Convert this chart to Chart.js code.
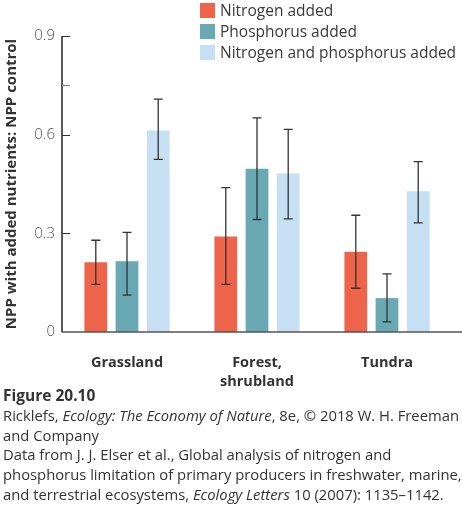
<!DOCTYPE html>
<html>
<head>
<meta charset="utf-8">
<script src="https://cdn.jsdelivr.net/npm/chart.js@4.4.1/dist/chart.umd.min.js"></script>
<style>
    body { margin: 0; background: #fff; font-family: 'Open Sans', sans-serif; }
    #wrap { position: relative; width: 462px; height: 508px; overflow: hidden; }
    #box_grafico { position: absolute; left: 0; top: 0; width: 462px; height: 392px; }
    #legenda { position: absolute; left: 200px; top: 0; font-size: 15.5px; color: #3a3a3a; }
    #legenda div { height: 21px; line-height: 21px; white-space: nowrap; }
    #legenda span { display: inline-block; width: 15px; height: 15px; margin-right: 5px; vertical-align: -2px; }
    #legenda .n span { background: #ee644a; }
    #legenda .p span { background: #69a9b4; }
    #legenda .np span { background: #c6dff3; }
    #legenda_fig { position: absolute; left: 3px; top: 386px; font-size: 14.8px; color: #333; line-height: 19.8px; white-space: nowrap; }
    #legenda_fig b { font-size: 15.5px; }
</style>
</head>
<body>
<div id="wrap">
    <div id="box_grafico"><canvas id="chartNutrientes"></canvas></div>
    <div id="legenda"></div>
    <div id="legenda_fig">
        <b>Figure 20.10</b><br>
        Ricklefs, <i>Ecology: The Economy of Nature</i>, 8e, © 2018 W. H. Freeman<br>
        and Company<br>
        Data from J. J. Elser et al., Global analysis of nitrogen and<br>
        phosphorus limitation of primary producers in freshwater, marine,<br>
        and terrestrial ecosystems, <i>Ecology Letters</i> 10 (2007): 1135–1142.
    </div>
</div>
<script>
// dados
var biomas = ['Grassland', ['Forest,', 'shrubland'], 'Tundra'];
var nomesSeries = ['Nitrogen added', 'Phosphorus added', 'Nitrogen and phosphorus added'];
var coresSeries = ['#ee644a', '#69a9b4', '#c6dff3'];

var nitrogenio = [0.212, 0.290, 0.244];
var nitrogenioMin = [0.145, 0.145, 0.133];
var nitrogenioMax = [0.279, 0.439, 0.355];

var fosforo = [0.215, 0.496, 0.103];
var fosforoMin = [0.112, 0.342, 0.031];
var fosforoMax = [0.303, 0.651, 0.177];

var ambos = [0.613, 0.482, 0.428];
var ambosMin = [0.525, 0.344, 0.332];
var ambosMax = [0.708, 0.616, 0.518];

var ticksY = [0, 0.3, 0.6, 0.75, 0.9];
var rotulosY = ['0', '0.3', '0.6', '', '0.9'];

var valores = [nitrogenio, fosforo, ambos];
var minimos = [nitrogenioMin, fosforoMin, ambosMin];
var maximos = [nitrogenioMax, fosforoMax, ambosMax];

// legenda em html
var htmlLegenda = '';
var classes = ['n', 'p', 'np'];
for (var i = 0; i < nomesSeries.length; i++) {
    htmlLegenda += `<div class="${classes[i]}"><span></span>${nomesSeries[i]}</div>`;
}
legenda.innerHTML = htmlLegenda;

let dados = {
    labels: biomas,
    datasets: []
};
for (var i = 0; i < valores.length; i++) {
    dados.datasets.push({
        label: nomesSeries[i],
        data: valores[i],
        backgroundColor: coresSeries[i],
        barPercentage: 0.73,
        categoryPercentage: 0.72
    });
}

// barras de erro + ticks para dentro + eixo x ate a borda
const pluginExtras = {
    id: 'extras',
    afterDatasetsDraw(chart) {
        const ctx = chart.ctx;
        const y = chart.scales.y;
        ctx.save();
        ctx.strokeStyle = '#333';
        ctx.lineWidth = 1.3;
        chart.data.datasets.forEach((ds, d) => {
            chart.getDatasetMeta(d).data.forEach((bar, i) => {
                var topo = y.getPixelForValue(maximos[d][i]);
                var base = y.getPixelForValue(minimos[d][i]);
                ctx.beginPath();
                ctx.moveTo(bar.x, topo);
                ctx.lineTo(bar.x, base);
                ctx.moveTo(bar.x - 4.5, topo);
                ctx.lineTo(bar.x + 4.5, topo);
                ctx.moveTo(bar.x - 4.5, base);
                ctx.lineTo(bar.x + 4.5, base);
                ctx.stroke();
            });
        });
        ctx.restore();
    },
    afterDraw(chart) {
        const ctx = chart.ctx;
        const y = chart.scales.y;
        const area = chart.chartArea;
        ctx.save();
        ctx.lineWidth = 1.5;
        ctx.strokeStyle = '#222';
        ctx.beginPath();
        ctx.moveTo(area.left, area.top);
        ctx.lineTo(area.left, area.bottom);
        ctx.stroke();
        ctx.strokeStyle = '#555';
        ctx.beginPath();
        ctx.moveTo(area.left, area.bottom);
        ctx.lineTo(chart.width, area.bottom);
        ctx.stroke();
        ticksY.forEach((v, k) => {
            if (v == 0) return;
            var py = Math.round(y.getPixelForValue(v)) + 0.5;
            ctx.strokeStyle = rotulosY[k] == '' ? '#888' : '#333';
            ctx.lineWidth = 1;
            ctx.beginPath();
            ctx.moveTo(area.left, py);
            ctx.lineTo(area.left + 8, py);
            ctx.stroke();
        });
        ctx.restore();
    }
};

const config = {
    type: 'bar',
    data: dados,
    plugins: [pluginExtras],
    options: {
        responsive: true,
        maintainAspectRatio: false,
        animation: false,
        layout: { padding: { top: 36, right: 10, left: 3, bottom: 0 } },
        plugins: {
            legend: { display: false },
            tooltip: { enabled: false }
        },
        scales: {
            x: {
                grid: { display: false, drawTicks: false },
                border: { display: false },
                ticks: {
                    color: '#333',
                    font: { family: 'Open Sans', size: 14.5, weight: 'bold', lineHeight: 1.35 },
                    padding: 21,
                    maxRotation: 0,
                    autoSkip: false
                },
                afterFit(escala) { escala.height = 60; }
            },
            y: {
                min: 0,
                max: 0.9,
                grid: { display: false, drawTicks: false },
                border: { display: false },
                afterBuildTicks(escala) {
                    escala.ticks = ticksY.map(v => ({ value: v }));
                },
                ticks: {
                    color: '#555',
                    font: { family: 'Open Sans', size: 15, weight: '300' },
                    padding: 7,
                    callback: function (valor, indice) { return rotulosY[indice]; }
                },
                title: {
                    display: true,
                    text: 'NPP with added nutrients: NPP control',
                    color: '#333',
                    font: { family: 'Open Sans', size: 15, weight: 'bold' },
                    padding: { top: 0, bottom: 0 }
                },
                afterFit(escala) { escala.width = 59; }
            }
        }
    }
};

let myChart = new Chart(
    document.getElementById('chartNutrientes'),
    config
);
</script>
</body>
</html>
